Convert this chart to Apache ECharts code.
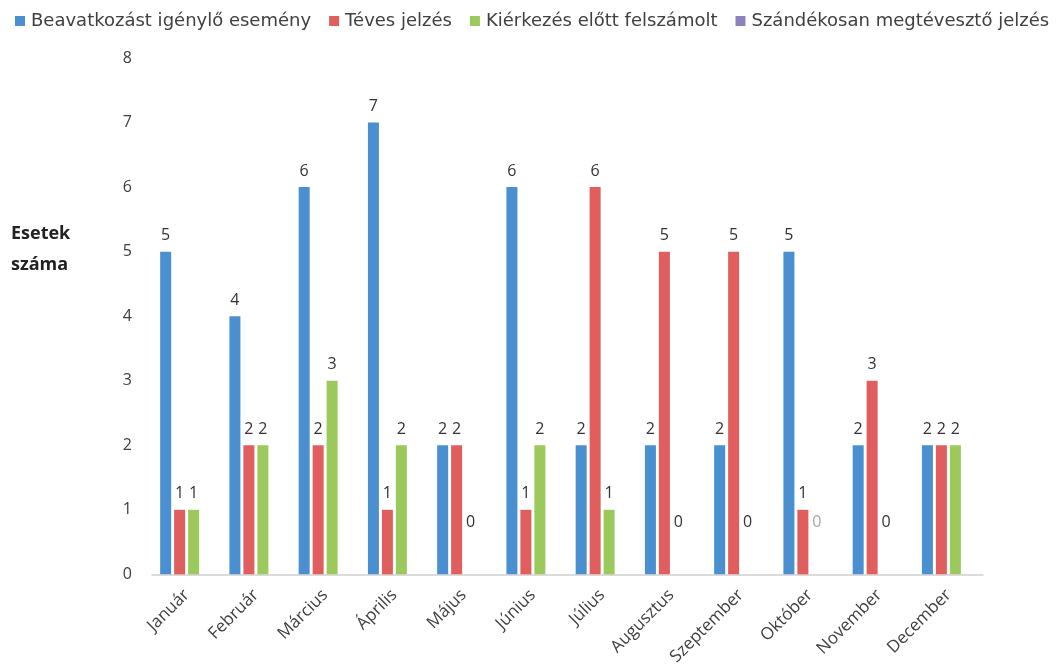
<!DOCTYPE html>
<html>
<head>
<meta charset="utf-8">
<script src="https://cdn.jsdelivr.net/npm/echarts@6/dist/echarts.min.js"></script>
<style>html,body{margin:0;padding:0;background:#fff}#c{width:1057px;height:668px}</style>
</head>
<body>
<div id="c"></div>
<script>
var months = ['Január','Február','Március','Április','Május','Június','Július','Augusztus','Szeptember','Október','November','December'];
var seriesNames = ['Beavatkozást igénylő esemény','Téves jelzés','Kiérkezés előtt felszámolt','Szándékosan megtévesztő jelzés'];
var beavatkozas = [5,4,6,7,2,6,2,2,2,5,2,2];
var teves = [1,2,2,1,2,1,6,5,5,1,3,2];
var kierkezes = [1,2,3,2,0,2,1,0,0,0,0,2];
var szandekos = [0,0,0,0,0,0,0,0,0,0,0,0];
var yTicks = [0,1,2,3,4,5,6,7,8];

var colors = ['#4a8fd0','#e05e5e','#9cc95c','#8f82bc'];
var FONT = 'Open Sans';

function items(arr, showZeroLabels) {
  return arr.map(function(v, i){
    if (v === 0) {
      if (!showZeroLabels) return {value: v, label: {show: false}};
      return {value: v, label: {offset: [0, -36], color: i === 9 ? '#a6a6a6' : '#333'}};
    }
    return v;
  });
}

var dataSets = [beavatkozas, teves, kierkezes, szandekos];
var series = dataSets.map(function(d, k){
  return {
    name: seriesNames[k],
    type: 'bar',
    barWidth: 11,
    barGap: '27%',
    itemStyle: {color: colors[k]},
    label: {show: k < 3, position: 'top', distance: 8, fontFamily: FONT, fontSize: 16, color: '#333'},
    data: items(d, k === 2)
  };
});

var chart = echarts.init(document.getElementById('c'));
chart.setOption({
  animation: false,
  textStyle: {fontFamily: FONT},
  legend: {
    left: 10, top: 7,
    itemWidth: 10, itemHeight: 10, itemGap: 18,
    icon: 'rect',
    textStyle: {fontFamily: 'DejaVu Sans', fontSize: 18, color: '#404040', padding: [0, 0, 0, 1]},
    data: seriesNames
  },
  grid: {left: 152, right: 74, top: 58, bottom: 93},
  xAxis: {
    type: 'category',
    data: months,
    axisLine: {lineStyle: {color: '#d0d0d0', width: 1.5}},
    axisTick: {show: false},
    axisLabel: {rotate: 45, fontFamily: FONT, fontSize: 17, color: '#404040', margin: 18, interval: 0}
  },
  yAxis: {
    type: 'value',
    min: yTicks[0], max: yTicks[yTicks.length-1], interval: 1,
    axisLine: {show: false},
    axisTick: {show: false},
    splitLine: {show: false},
    axisLabel: {fontFamily: FONT, fontSize: 16, color: '#404040', margin: 20}
  },
  graphic: [{
    type: 'text', left: 11, top: 218,
    style: {text: 'Esetek\nszáma', font: 'bold 18px "Open Sans"', fill: '#222', lineHeight: 31}
  }],
  series: series
});
</script>
</body>
</html>
